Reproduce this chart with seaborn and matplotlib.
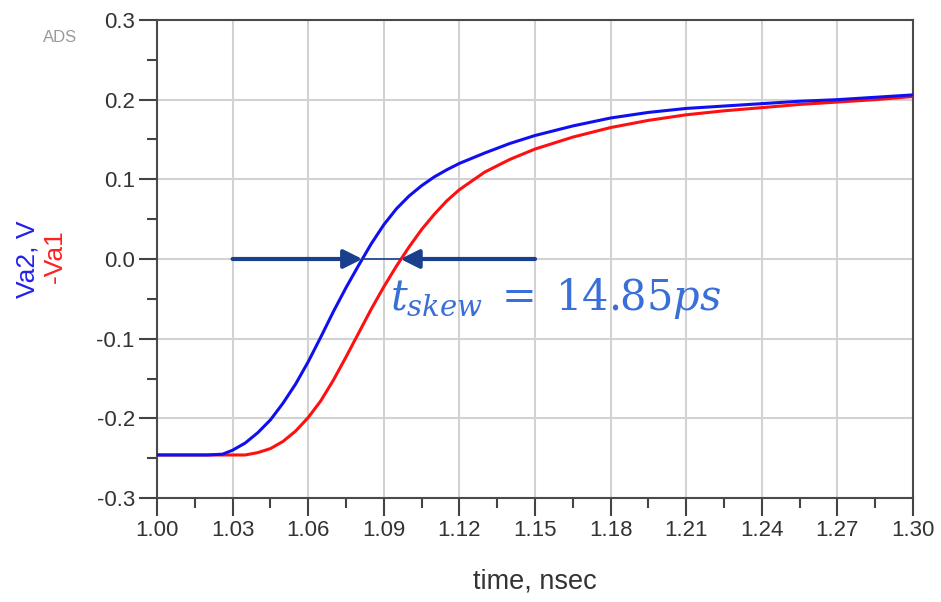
import numpy as np
import pandas as pd
import matplotlib
matplotlib.use("Agg")
import matplotlib.pyplot as plt
import seaborn as sns

# ---- data ----
time_ns = [1.00, 1.02, 1.026, 1.03, 1.035, 1.04, 1.045, 1.05, 1.055, 1.06,
           1.065, 1.07, 1.075, 1.08, 1.085, 1.09, 1.095, 1.10, 1.105, 1.11,
           1.115, 1.12, 1.13, 1.14, 1.15, 1.165, 1.18, 1.195, 1.21, 1.225,
           1.24, 1.255, 1.27, 1.285, 1.30]
va2 = [-0.246, -0.246, -0.245, -0.240, -0.231, -0.218, -0.202, -0.181, -0.157, -0.129,
       -0.098, -0.066, -0.036, -0.008, 0.019, 0.043, 0.063, 0.079, 0.092, 0.103,
       0.112, 0.120, 0.133, 0.145, 0.155, 0.167, 0.177, 0.184, 0.189, 0.192,
       0.195, 0.198, 0.200, 0.203, 0.206]
neg_va1 = [-0.246, -0.246, -0.246, -0.246, -0.246, -0.243, -0.238, -0.229, -0.216, -0.199,
           -0.178, -0.152, -0.123, -0.093, -0.063, -0.035, -0.009, 0.015, 0.037, 0.056,
           0.073, 0.087, 0.109, 0.125, 0.138, 0.153, 0.165, 0.174, 0.181, 0.186,
           0.190, 0.194, 0.197, 0.200, 0.204]

x_ticks = [1.00, 1.03, 1.06, 1.09, 1.12, 1.15, 1.18, 1.21, 1.24, 1.27, 1.30]
y_ticks = [-0.3, -0.2, -0.1, 0.0, 0.1, 0.2, 0.3]
arrow_left_start = 1.03
arrow_right_start = 1.15
cross_va2 = 1.0815
cross_va1 = 1.0966
skew_label = r"$t_{skew}\;=\;14.85ps$"

df = pd.DataFrame({"time": time_ns, "Va2": va2, "-Va1": neg_va1})

sns.set_theme(style="white")
plt.rcParams["font.family"] = ["Liberation Sans", "DejaVu Sans"]
plt.rcParams["mathtext.fontset"] = "dejavuserif"

fig = plt.figure(figsize=(9.41, 6.02), dpi=100)
ax = fig.add_axes([157/941, 1-498/602, (913-157)/941, (498-20)/602])

grid_c = "#d2d2d2"
for xv in x_ticks:
    ax.axvline(xv, color=grid_c, lw=1.5, zorder=0)
for yv in y_ticks:
    ax.axhline(yv, color=grid_c, lw=1.5, zorder=0)

sns.lineplot(data=df, x="time", y="-Va1", ax=ax, color="#ff1010", lw=2.2, zorder=3)
sns.lineplot(data=df, x="time", y="Va2", ax=ax, color="#1010ee", lw=2.2, zorder=4)

ax.set_xlim(1.00, 1.30)
ax.set_ylim(-0.3, 0.3)
ax.set_xticks(x_ticks)
ax.set_xticklabels([f"{v:.2f}" for v in x_ticks])
ax.set_yticks(y_ticks)
ax.set_yticklabels([f"{v:.1f}" for v in y_ticks])
ax.set_xticks([v + 0.015 for v in x_ticks[:-1]], minor=True)
ax.set_yticks([v + 0.05 for v in y_ticks[:-1]], minor=True)
ax.tick_params(axis="both", which="major", direction="out", length=13, width=1.5,
               color="#444444", labelsize=16, labelcolor="#333333", pad=3,
               bottom=True, left=True)
ax.tick_params(axis="both", which="minor", direction="out", length=7, width=1.5,
               color="#444444", bottom=True, left=True)
for s in ax.spines.values():
    s.set_color("#4a4a4a")
    s.set_linewidth(1.5)
ax.set_xlabel("")
ax.set_ylabel("")

fig.text(535/941, 1-581/602, "time, nsec", ha="center", va="center",
         fontsize=19.5, color="#333333")
fig.text(27/941, 1-259/602, "Va2, V", rotation=90, ha="center", va="center",
         fontsize=19, color="#2020ee")
fig.text(55/941, 1-256/602, "-Va1", rotation=90, ha="center", va="center",
         fontsize=19, color="#ff2020")
fig.text(60/941, 1-37/602, "ADS", ha="center", va="center",
         fontsize=12, color="#9a9a9a")

arrow_c = "#1a3f8c"
ax.plot([cross_va2, cross_va1], [0, 0], color=arrow_c, lw=1.2, zorder=5)
ax.annotate("", xy=(cross_va2, 0), xytext=(arrow_left_start, 0),
            arrowprops=dict(arrowstyle="-|>", color=arrow_c, lw=3,
                            mutation_scale=28, shrinkA=0, shrinkB=0), zorder=6)
ax.annotate("", xy=(cross_va1, 0), xytext=(arrow_right_start, 0),
            arrowprops=dict(arrowstyle="-|>", color=arrow_c, lw=3,
                            mutation_scale=28, shrinkA=0, shrinkB=0), zorder=6)

ax.text(1.0925, -0.049, skew_label, fontsize=30, color="#3a6fd8",
        ha="left", va="center", zorder=7)

fig.savefig("out.png", dpi=100)
